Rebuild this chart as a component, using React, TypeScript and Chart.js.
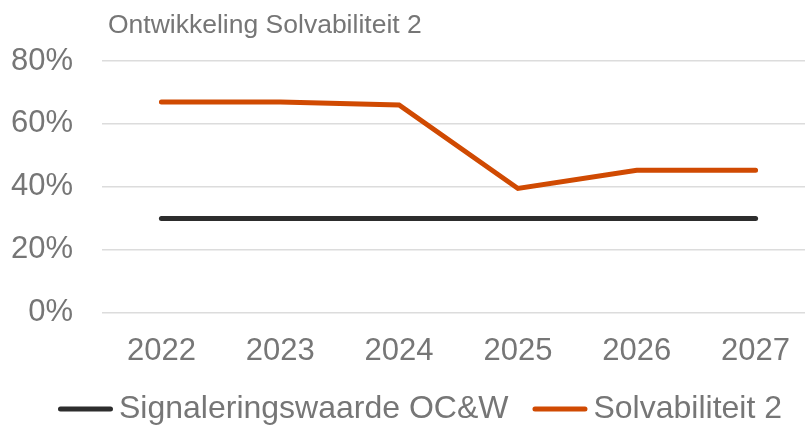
import React, { useEffect, useRef } from 'react';
import { Chart, registerables } from 'chart.js';

Chart.register(...registerables);

const categories = ['2022', '2023', '2024', '2025', '2026', '2027'];
const signaleringswaarde = [30, 30, 30, 30, 30, 30];
const solvabiliteit = [67, 67, 66, 39.5, 45.3, 45.3];
const yMin = 0;
const yMax = 80;
const yStep = 20;
const chartTitle = 'Ontwikkeling Solvabiliteit 2';
const seriesNames = ['Signaleringswaarde OC&W', 'Solvabiliteit 2'];
const seriesColors = ['#2d2d2d', '#d04a02'];

const FONT = '"Liberation Sans", Arial, Helvetica, sans-serif';
const TEXT_GRAY = '#767676';

const overlayPlugin = {
  id: 'overlay',
  afterDraw(chart: any) {
    const { ctx, chartArea } = chart;
    ctx.save();
    // title
    ctx.fillStyle = TEXT_GRAY;
    ctx.font = `26.5px ${FONT}`;
    ctx.textAlign = 'left';
    ctx.textBaseline = 'alphabetic';
    ctx.fillText(chartTitle, chartArea.left + 6, 33);

    // legend
    ctx.font = `32px ${FONT}`;
    const items = chart.data.datasets.map((ds: any) => ({
      text: ds.label,
      color: ds.borderColor,
      w: ctx.measureText(ds.label).width,
    }));
    const lineLen = 55;
    const gap = 6;
    const spacing = 24;
    const total =
      items.reduce((s: number, it: any) => s + lineLen + gap + it.w, 0) +
      spacing * (items.length - 1);
    let x = chart.width / 2 + 10 - total / 2;
    const y = 409;
    items.forEach((it: any) => {
      ctx.strokeStyle = it.color;
      ctx.lineWidth = 5;
      ctx.lineCap = 'round';
      ctx.beginPath();
      ctx.moveTo(x + 2.5, y);
      ctx.lineTo(x + lineLen - 2.5, y);
      ctx.stroke();
      ctx.fillStyle = TEXT_GRAY;
      ctx.textBaseline = 'middle';
      ctx.fillText(it.text, x + lineLen + gap, y);
      x += lineLen + gap + it.w + spacing;
    });
    ctx.restore();
  },
};

export default function App() {
  const ref = useRef<HTMLCanvasElement | null>(null);

  useEffect(() => {
    if (!ref.current) return;
    const chart = new Chart(ref.current, {
      type: 'line',
      data: {
        labels: categories,
        datasets: [
          {
            label: seriesNames[0],
            data: signaleringswaarde,
            borderColor: seriesColors[0],
            backgroundColor: seriesColors[0],
            borderWidth: 5,
            borderCapStyle: 'round',
            borderJoinStyle: 'miter',
            pointRadius: 0,
            tension: 0,
          },
          {
            label: seriesNames[1],
            data: solvabiliteit,
            borderColor: seriesColors[1],
            backgroundColor: seriesColors[1],
            borderWidth: 5,
            borderCapStyle: 'round',
            borderJoinStyle: 'miter',
            pointRadius: 0,
            tension: 0,
          },
        ],
      },
      options: {
        responsive: false,
        animation: false,
        devicePixelRatio: 1,
        layout: { padding: { top: 61, right: 5, bottom: 35, left: 0 } },
        plugins: {
          legend: { display: false },
          title: { display: false },
          tooltip: { enabled: false },
        },
        scales: {
          x: {
            offset: true,
            grid: { display: false, drawTicks: false },
            border: { display: false },
            ticks: {
              color: TEXT_GRAY,
              font: { family: FONT, size: 31 },
              padding: 20,
              maxRotation: 0,
            },
          },
          y: {
            min: yMin,
            max: yMax,
            grid: { color: '#dcdcdc', lineWidth: 1.5, drawTicks: false },
            border: { display: false },
            ticks: {
              stepSize: yStep,
              color: TEXT_GRAY,
              font: { family: FONT, size: 31 },
              padding: 29,
              callback: (v: any) => `${v}%`,
            },
            afterFit: (scale: any) => {
              scale.width = 102;
            },
          },
        },
      },
      plugins: [overlayPlugin],
    });
    return () => chart.destroy();
  }, []);

  return (
    <div
      style={{
        position: 'fixed',
        left: 0,
        top: 0,
        width: 805,
        height: 425,
        overflow: 'hidden',
        background: '#fff',
      }}
    >
      <canvas ref={ref} width={820} height={425} style={{ display: 'block' }} />
    </div>
  );
}
